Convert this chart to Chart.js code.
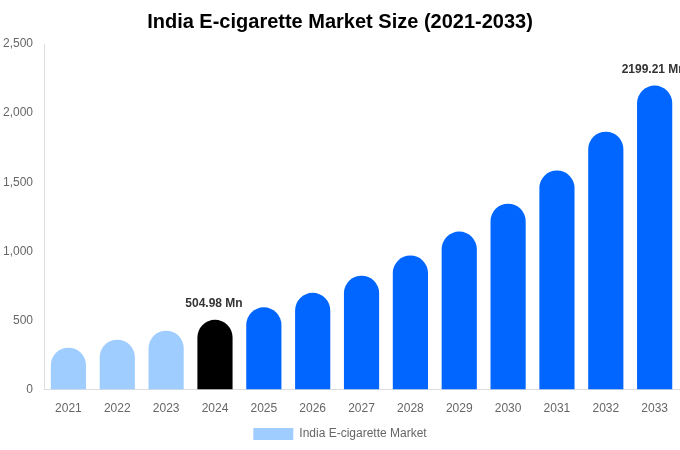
<!DOCTYPE html>
<html>
<head>
<meta charset="utf-8">
<script src="https://cdn.jsdelivr.net/npm/chart.js@4.4.1/dist/chart.umd.min.js"></script>
<style>
html,body{margin:0;padding:0;background:#fff;}
#wrap{width:680px;height:450px;}
</style>
</head>
<body>
<div id="wrap"><canvas id="c"></canvas></div>
<script>
const categories = ['2021','2022','2023','2024','2025','2026','2027','2028','2029','2030','2031','2032','2033'];
const marketValues = [303, 361, 426, 504.98, 595, 700, 824, 970, 1143, 1345, 1585, 1866, 2199.21];
const barColors = ['#A0CDFF','#A0CDFF','#A0CDFF','#000000','#0066FF','#0066FF','#0066FF','#0066FF','#0066FF','#0066FF','#0066FF','#0066FF','#0066FF'];
const labelledIndices = [3, 12];
const yTicks = [0, 500, 1000, 1500, 2000, 2500];

const valueLabelPlugin = {
  id: 'valueLabels',
  afterDatasetsDraw(chart) {
    const ctx = chart.ctx;
    const meta = chart.getDatasetMeta(0);
    ctx.save();
    ctx.font = 'bold 12px "Liberation Sans", Arial, sans-serif';
    ctx.fillStyle = '#333333';
    ctx.textAlign = 'center';
    ctx.textBaseline = 'bottom';
    labelledIndices.forEach(i => {
      const el = meta.data[i];
      const v = marketValues[i];
      ctx.fillText(v.toFixed(2) + ' Mn', el.x - 1, el.y - 10);
    });
    ctx.restore();
  }
};

new Chart(document.getElementById('c'), {
  type: 'bar',
  data: {
    labels: categories,
    datasets: [{
      label: 'India E-cigarette Market',
      data: marketValues,
      backgroundColor: barColors,
      borderRadius: 20,
      borderSkipped: 'bottom',
      categoryPercentage: 0.72,
      barPercentage: 1.0
    }]
  },
  options: {
    responsive: true,
    maintainAspectRatio: false,
    animation: false,
    layout: { padding: { left: 0, right: 0, top: 0, bottom: 0 } },
    plugins: {
      title: {
        display: true,
        text: 'India E-cigarette Market Size (2021-2033)',
        color: '#000000',
        font: { family: '"Liberation Sans", Arial, sans-serif', size: 20, weight: 'bold' },
        padding: { top: 10, bottom: 10 }
      },
      legend: {
        display: true,
        position: 'bottom',
        labels: {
          color: '#666666',
          boxWidth: 40,
          boxHeight: 12,
          padding: 0,
          font: { family: '"Liberation Sans", Arial, sans-serif', size: 12 },
          generateLabels: (chart) => [{
            text: 'India E-cigarette Market',
            fillStyle: barColors[0],
            strokeStyle: barColors[0],
            lineWidth: 0,
            fontColor: '#666666',
            datasetIndex: 0
          }]
        }
      },
      tooltip: { enabled: false }
    },
    scales: {
      x: {
        grid: { display: false, drawTicks: false },
        border: { display: true, color: '#dddddd' },
        ticks: {
          color: '#666666',
          padding: 12,
          font: { family: '"Liberation Sans", Arial, sans-serif', size: 12 }
        }
      },
      y: {
        min: 0,
        max: 2500,
        afterBuildTicks: (axis) => { axis.ticks = yTicks.map(v => ({ value: v })); },
        afterFit: (axis) => { axis.width = 44; },
        grid: { display: false, drawTicks: false },
        border: { display: true, color: '#dddddd' },
        ticks: {
          color: '#666666',
          padding: 11,
          font: { family: '"Liberation Sans", Arial, sans-serif', size: 12 },
          callback: (v) => v.toLocaleString('en-US')
        }
      }
    }
  },
  plugins: [valueLabelPlugin]
});
</script>
</body>
</html>
